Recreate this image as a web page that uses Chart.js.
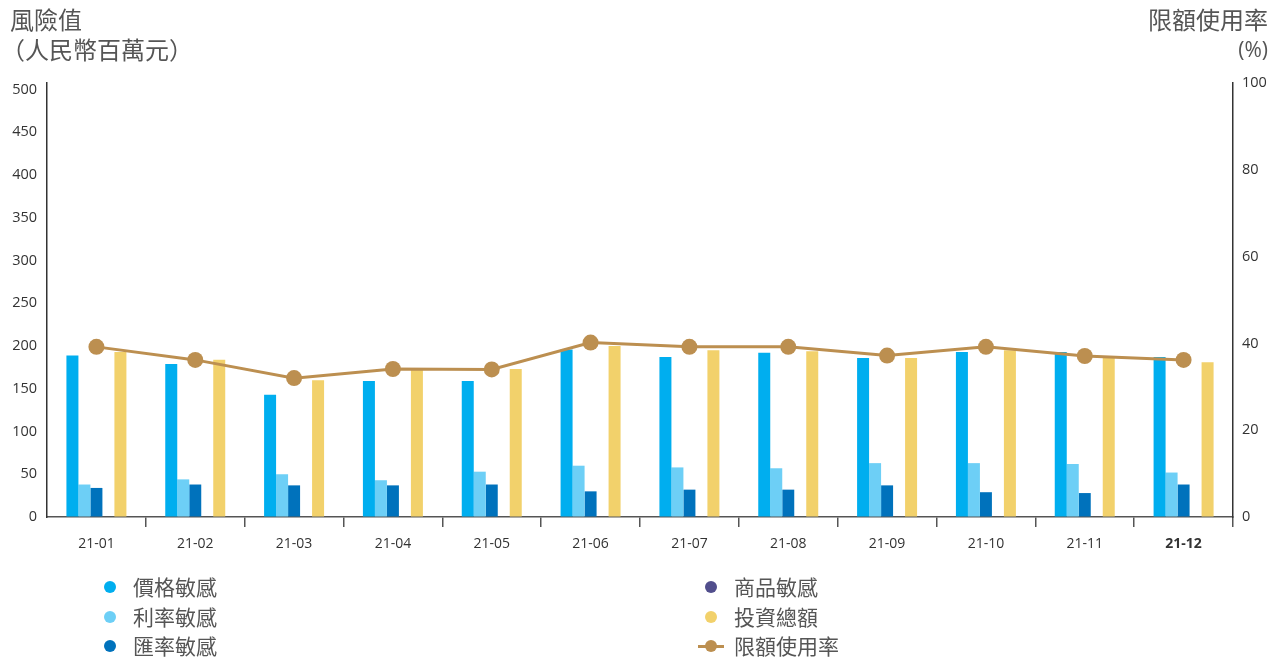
<!DOCTYPE html>
<html>
<head>
<meta charset="utf-8">
<script src="https://cdn.jsdelivr.net/npm/chart.js@4"></script>
<style>
  html, body { margin: 0; padding: 0; background: #fff; }
  #wrap { position: relative; width: 1285px; height: 657px; overflow: hidden; font-family: "Noto Sans CJK TC", "Noto Sans", sans-serif; color: #555; }
  #c { position: absolute; left: 0; top: 0; }
  .t { position: absolute; white-space: nowrap; line-height: 1; }
  .leg { position: absolute; font-size: 21px; line-height: 1; color: #555; white-space: nowrap; }
  .dot { position: absolute; width: 12px; height: 12px; border-radius: 50%; }
</style>
</head>
<body>
<div id="wrap">
  <canvas id="c" width="1285" height="657"></canvas>
  <div class="t" style="left:10px; top:7px; font-size:24px;">風險值</div>
  <div class="t" style="left:1px; top:37px; font-size:24px;">（人民幣百萬元）</div>
  <div class="t" style="right:17px; top:7px; font-size:24px;">限額使用率</div>
  <div class="t" style="right:17px; top:39px; font-size:21px; font-family:'Open Sans','Noto Sans',sans-serif;">(%)</div>
  <div id="legend"></div>
</div>
<script>
const months = ['21-01','21-02','21-03','21-04','21-05','21-06','21-07','21-08','21-09','21-10','21-11','21-12'];
const priceSens = [189,179,143,159,159,196,187,192,186,193,193,187];
const rateSens = [38,44,50,43,53,60,58,57,63,63,62,52];
const fxSens = [34,38,37,37,38,30,32,32,37,29,28,38];
const commoditySens = [0,0,0,0,0,0,0,0,0,0,0,0];
const investTotal = [193,184,160,172,173,200,195,194,186,195,186,181];
const limitUsage = [39.2,36.2,32,34.1,34,40.2,39.2,39.2,37.2,39.2,37.1,36.2];
const leftTicks = [0,50,100,150,200,250,300,350,400,450,500];
const rightTicks = [0,20,40,60,80,100];

const names = ['價格敏感','利率敏感','匯率敏感','商品敏感','投資總額','限額使用率'];
const colors = ['#00AEEF','#6DCFF6','#0072BC','#514E8C','#F2D16B','#BC8F50'];

const tickFont = { family: "'Open Sans','Noto Sans',sans-serif", size: 14.5 };

new Chart(document.getElementById('c'), {
  data: {
    labels: months,
    datasets: [
      { type: 'line', label: names[5], data: limitUsage, yAxisID: 'y1', borderColor: colors[5], backgroundColor: colors[5], borderWidth: 3, pointRadius: 8, pointHoverRadius: 8, pointBackgroundColor: colors[5], pointBorderWidth: 0, tension: 0, order: 0 },
      { type: 'bar', label: names[0], data: priceSens, backgroundColor: colors[0], yAxisID: 'y', order: 1 },
      { type: 'bar', label: names[1], data: rateSens, backgroundColor: colors[1], yAxisID: 'y', order: 1 },
      { type: 'bar', label: names[2], data: fxSens, backgroundColor: colors[2], yAxisID: 'y', order: 1 },
      { type: 'bar', label: names[3], data: commoditySens, backgroundColor: colors[3], yAxisID: 'y', order: 1 },
      { type: 'bar', label: names[4], data: investTotal, backgroundColor: colors[4], yAxisID: 'y', order: 1 }
    ]
  },
  options: {
    responsive: false,
    animation: false,
    events: [],
    layout: { padding: { top: 83, left: 0, right: 0, bottom: 0 } },
    datasets: { bar: { categoryPercentage: 0.607, barPercentage: 1.0, borderWidth: 0 } },
    plugins: { legend: { display: false }, tooltip: { enabled: false } },
    scales: {
      x: {
        offset: true,
        grid: {
          offset: true, drawOnChartArea: false, drawTicks: true, tickLength: 10,
          color: (ctx) => (ctx.index === 0 ? 'rgba(0,0,0,0)' : '#555'), lineWidth: 1.5
        },
        border: { display: true, color: '#555', width: 1.5 },
        ticks: {
          color: '#333', padding: 9,
          font: (ctx) => ({ family: tickFont.family, size: 14, weight: ctx.index === 11 ? 'bold' : 'normal' })
        },
        afterFit: (s) => { s.height = 140; }
      },
      y: {
        position: 'left', min: 0, max: 507.6,
        afterBuildTicks: (s) => { s.ticks = leftTicks.map(v => ({ value: v })); },
        grid: { drawOnChartArea: false, drawTicks: false },
        border: { display: true, color: '#333', width: 1.5 },
        ticks: { color: '#333', padding: 10, font: tickFont },
        afterFit: (s) => { s.width = 47; }
      },
      y1: {
        position: 'right', min: 0, max: 100,
        afterBuildTicks: (s) => { s.ticks = rightTicks.map(v => ({ value: v })); },
        grid: { drawOnChartArea: false, drawTicks: false },
        border: { display: true, color: '#333', width: 1.5 },
        ticks: { color: '#333', padding: 9, font: tickFont },
        afterFit: (s) => { s.width = 52; }
      }
    }
  }
});

// legend (HTML)
const legend = document.getElementById('legend');
const legendItems = [
  { i: 0, x: 110, y: 587 }, { i: 1, x: 110, y: 617 }, { i: 2, x: 110, y: 646 },
  { i: 3, x: 711, y: 587 }, { i: 4, x: 711, y: 617 }, { i: 5, x: 711, y: 646, line: true }
];
legendItems.forEach(it => {
  if (it.line) {
    const ln = document.createElement('div');
    ln.style.cssText = `position:absolute;left:${it.x - 13}px;top:${it.y - 1.5}px;width:26px;height:3px;background:${colors[it.i]};`;
    legend.appendChild(ln);
  }
  const d = document.createElement('div');
  d.className = 'dot';
  d.style.left = (it.x - 6) + 'px';
  d.style.top = (it.y - 6) + 'px';
  d.style.background = colors[it.i];
  legend.appendChild(d);
  const t = document.createElement('div');
  t.className = 'leg';
  t.textContent = names[it.i];
  t.style.left = (it.x + 23) + 'px';
  t.style.top = (it.y - 11) + 'px';
  legend.appendChild(t);
});
</script>
</body>
</html>
